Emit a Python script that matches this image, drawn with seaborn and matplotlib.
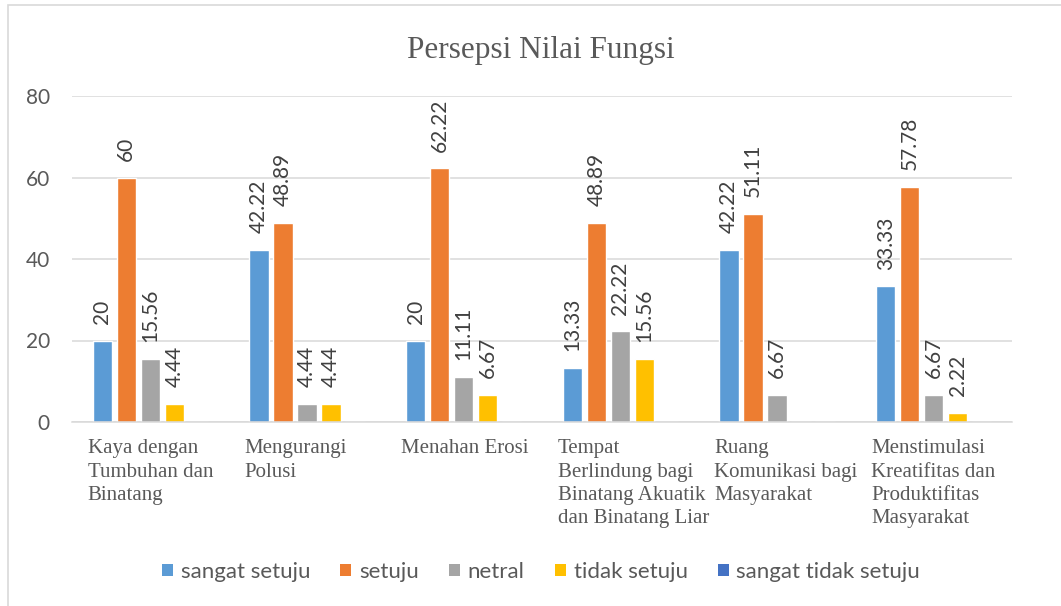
import numpy as np
import pandas as pd
import matplotlib
matplotlib.use("Agg")
import matplotlib.pyplot as plt
from matplotlib.patches import Patch, Rectangle
import seaborn as sns

categories = [
    "Kaya dengan\nTumbuhan dan\nBinatang",
    "Mengurangi\nPolusi",
    "Menahan Erosi",
    "Tempat\nBerlindung bagi\nBinatang Akuatik\ndan Binatang Liar",
    "Ruang\nKomunikasi bagi\nMasyarakat",
    "Menstimulasi\nKreatifitas dan\nProduktifitas\nMasyarakat",
]
series_names = ["sangat setuju", "setuju", "netral", "tidak setuju", "sangat tidak setuju"]
sangat_setuju = [20, 42.22, 20, 13.33, 42.22, 33.33]
setuju = [60, 48.89, 62.22, 48.89, 51.11, 57.78]
netral = [15.56, 4.44, 11.11, 22.22, 6.67, 6.67]
tidak_setuju = [4.44, 4.44, 6.67, 15.56, 0, 2.22]
sangat_tidak_setuju = [0, 0, 0, 0, 0, 0]
label_texts = [
    ["20", "42.22", "20", "13.33", "42.22", "33.33"],
    ["60", "48.89", "62.22", "48.89", "51.11", "57.78"],
    ["15.56", "4.44", "11.11", "22.22", "6.67", "6.67"],
    ["4.44", "4.44", "6.67", "15.56", "", "2.22"],
    ["", "", "", "", "", ""],
]
yticks = [0, 20, 40, 60, 80]
colors = ["#5B9BD5", "#ED7D31", "#A5A5A5", "#FFC000", "#4472C4"]

all_series = [sangat_setuju, setuju, netral, tidak_setuju, sangat_tidak_setuju]
rows = []
for name, vals in zip(series_names, all_series):
    for c, v in zip(categories, vals):
        rows.append({"kategori": c, "seri": name, "nilai": v})
df = pd.DataFrame(rows)

sns.set_theme(style="white")
plt.rcParams["font.family"] = ["Lato", "DejaVu Sans"]

W, H = 1061, 606
fig = plt.figure(figsize=(W / 100, H / 100), dpi=100)
ax = fig.add_axes([72 / W, 1 - 422 / H, (1012 - 72) / W, (422 - 96) / H])

sns.barplot(data=df, x="kategori", y="nilai", hue="seri", order=categories,
            hue_order=series_names, palette=colors, errorbar=None,
            width=0.766, gap=0.2, saturation=1, ax=ax, legend=False)

ax.set_ylim(0, 80)
ax.set_xlim(-0.5, len(categories) - 0.5)
ax.set_yticks(yticks)
ax.set_yticklabels([str(t) for t in yticks])
ax.yaxis.grid(True, color="#d9d9d9", linewidth=1.1)
ax.set_axisbelow(True)
for s in ["top", "right", "left"]:
    ax.spines[s].set_visible(False)
ax.spines["bottom"].set_color("#d9d9d9")
ax.spines["bottom"].set_linewidth(1.1)
ax.set_xlabel("")
ax.set_ylabel("")
ax.tick_params(axis="y", length=0, pad=16, labelsize=15, labelcolor="#595959")
ax.tick_params(axis="x", length=0, pad=12.5)

ax.set_xticks(np.arange(len(categories)) - 0.4)
ax.set_xticklabels(categories, ha="left", va="top", fontsize=15,
                   family="Liberation Serif", color="#595959", linespacing=1.3)

for cont, labs in zip(ax.containers, label_texts):
    ax.bar_label(cont, labels=labs, rotation=90, padding=12, fontsize=15,
                 color="#404040")

fig.text(541 / W, 1 - 58 / H, "Persepsi Nilai Fungsi", ha="center", va="baseline",
         fontsize=22.5, family="Liberation Serif", color="#595959")

handles = [Patch(facecolor=c, edgecolor="none") for c in colors]
fig.legend(handles, series_names, loc="center", bbox_to_anchor=(541 / W, 1 - 572 / H),
           ncol=5, frameon=False, fontsize=16, handlelength=0.5, handleheight=0.5,
           handletextpad=0.35, columnspacing=1.35, labelcolor="#595959")

fig.patches.append(Rectangle((8 / W, -0.1), 1.2, 1 - 5 / H + 0.1, transform=fig.transFigure,
                             fill=False, edgecolor="#d9d9d9", linewidth=1.2))

fig.savefig("out.png", dpi=100, facecolor="white")
